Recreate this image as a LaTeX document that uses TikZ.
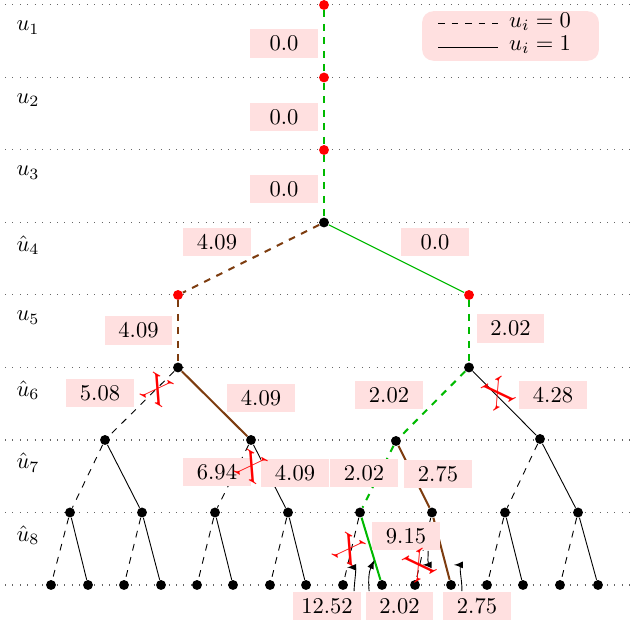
\documentclass[tikz,border=0pt]{standalone}
\usepackage{tikz}
\usetikzlibrary{calc}
\definecolor{costpink}{RGB}{255, 224, 224}
\definecolor{pathgreen}{RGB}{0, 185, 0}
\definecolor{pathbrown}{RGB}{125, 60, 15}

\tikzset{
  vertex/.style    = {circle, fill=black, inner sep=0pt, minimum size=4.4pt},
  fixed/.style     = {vertex, fill=red},
  cost/.style      = {fill=costpink, minimum width=30pt, minimum height=12.8pt, inner sep=1pt},
  zero/.style      = {dashed},
  one/.style       = {},
  cut/.style       = {text=red, font=\LARGE, inner sep=0pt},
  levelline/.style = {dash pattern=on 0.4pt off 2.9pt, line width=0.45pt, black!60},
  greenpath/.style = {draw=pathgreen, line width=0.9pt},
  brownpath/.style = {draw=pathbrown, line width=0.9pt}
}

\begin{document}
\begin{tikzpicture}[x=0.444pt, y=-0.444pt]
  \useasboundingbox (0,0) rectangle (644,621);

  % levels
  \foreach \i in {0,...,8}
    \draw[levelline] (5,5+72.5*\i) -- (630,5+72.5*\i);
  \foreach \t [count=\i] in {{u_1},{u_2},{u_3},{\hat{u}_4},{u_5},{\hat{u}_6},{\hat{u}_7},{\hat{u}_8}}
    \node (lev\i) at (28,72.5*\i-45) {$\t$};

  % nodes
  \node[fixed]  (a1) at (324,5)     {};
  \node[fixed]  (a2) at (324,77.5)  {};
  \node[fixed]  (a3) at (324,150)   {};
  \node[vertex] (a4) at (324,222.5) {};
  \node[fixed]  (b1) at (178,295)   {};
  \node[fixed]  (b2) at (469,295)   {};
  \node[vertex] (c1) at (178,367.5) {};
  \node[vertex] (c2) at (469,367.5) {};
  \node[vertex] (d1) at (105,440)   {};
  \node[vertex] (d2) at (251,440)   {};
  \node[vertex] (d3) at (396,441)   {};
  \node[vertex] (d4) at (540,439)   {};
  \foreach \x [count=\i] in {70,142,215,288,360,432,505,578}
    \node[vertex] (e\i) at (\x,512.5) {};
  \foreach \x [count=\i] in {51,88,124,161,197,233,270,306,343,382,415,451,487,523,560,598}
    \node[vertex] (f\i) at (\x,585) {};

  % black edges
  \foreach \p in {1,...,8} {
    \pgfmathtruncatemacro\c{2*\p-1}
    \draw[zero] (e\p) -- (f\c);
  }
  \foreach \p/\c in {1/2,2/4,3/6,4/8,7/14,8/16}
    \draw[one] (e\p) -- (f\c);
  \draw[zero] (d1) -- (e1);
  \draw[one]  (d1) -- (e2);
  \draw[zero] (d2) -- (e3);
  \draw[one]  (d2) -- (e4);
  \draw[zero] (d4) -- (e7);
  \draw[one]  (d4) -- (e8);
  \draw[zero] (c1) -- (d1);
  \draw[one]  (c2) -- (d4);

  % coloured paths
  \draw[greenpath, zero] (a1) -- (a2) -- (a3) -- (a4);
  \draw[draw=pathgreen, line width=0.5pt] (a4) -- (b2);
  \draw[greenpath, zero] (b2) -- (c2);
  \draw[greenpath, zero] (c2) -- (d3);
  \draw[greenpath, zero] (d3) -- (e5);
  \draw[greenpath] (e5) -- (f10);
  \draw[brownpath, zero] (a4) -- (b1);
  \draw[brownpath, zero] (b1) -- (c1);
  \draw[brownpath] (c1) -- (d2);
  \draw[brownpath] (d3) -- (e6);
  \draw[brownpath] (e6) -- (f12);

  % costs
  \node[cost] (k1)  at (284,43.5)  {0.0};
  \node[cost] (k2)  at (284,117)   {0.0};
  \node[cost] (k3)  at (284,189)   {0.0};
  \node[cost] (k4l) at (217,242)   {4.09};
  \node[cost] (k4r) at (435,242)   {0.0};
  \node[cost] (k5l) at (138.5,330.5) {4.09};
  \node[cost] (k5r) at (510.5,328.5) {2.02};
  \node[cost] (k6a) at (100,393)   {5.08};
  \node[cost] (k6b) at (261,398)   {4.09};
  \node[cost] (k6c) at (389,395)   {2.02};
  \node[cost] (k6d) at (553,395)   {4.28};
  \node[cost] (k7a) at (217,472)   {6.94};
  \node[cost] (k7b) at (295,473)   {4.09};
  \node[cost] (k7c) at (364,473)   {2.02};
  \node[cost] (k7d) at (438,474)   {2.75};
  \node[cost] (k8)  at (406,536)   {9.15};
  \node[cost] (k9a) at (327,606)   {12.52};
  \node[cost] (k9b) at (399.5,606) {2.02};
  \node[cost] (k9c) at (477,606)   {2.75};

  % pruned branches
  \node[cut, rotate=-30] (x1) at (158,390) {X};
  \node[cut, rotate=30]  (x2) at (499,393) {X};
  \node[cut, rotate=-30] (x3) at (252,467) {X};
  \node[cut, rotate=-30] (x4) at (350,550) {X};
  \node[cut, rotate=30]  (x5) at (420,565) {X};

  % pointers
  \path (e5) -- (f9)  coordinate[pos=0.8]  (tA);
  \path (e5) -- (f10) coordinate[pos=0.68] (tB);
  \path (e6) -- (f11) coordinate[pos=0.76] (tC);
  \path (e6) -- (f12) coordinate[pos=0.76] (tD);
  \draw[-latex] ([xshift=12pt]k9a.north) to[out=88, in=0] (tA);
  \draw[-latex] ([xshift=-13.5pt]k9b.north) to[out=95, in=-115] (tB);
  \draw[-latex, shorten >=1.3pt] ([xshift=9.8pt]k8.south) to[out=-85, in=0] (tC);
  \draw[-latex, shorten >=3.6pt] ([xshift=-6.7pt]k9c.north) to[out=88, in=0] (tD);

  % legend
  \node[fill=costpink, rounded corners=5pt, minimum width=78.5pt, minimum height=22pt] (legend) at (510.5,36) {};
  \coordinate (z0a) at (438,23);
  \coordinate (z0b) at (498,23);
  \coordinate (z1a) at (438,47);
  \coordinate (z1b) at (498,47);
  \draw[zero] (z0a) -- (z0b);
  \draw[one]  (z1a) -- (z1b);
  \node (lz0) at (540,22) {$u_i=0$};
  \node (lz1) at (540,45) {$u_i=1$};
\end{tikzpicture}
\end{document}
